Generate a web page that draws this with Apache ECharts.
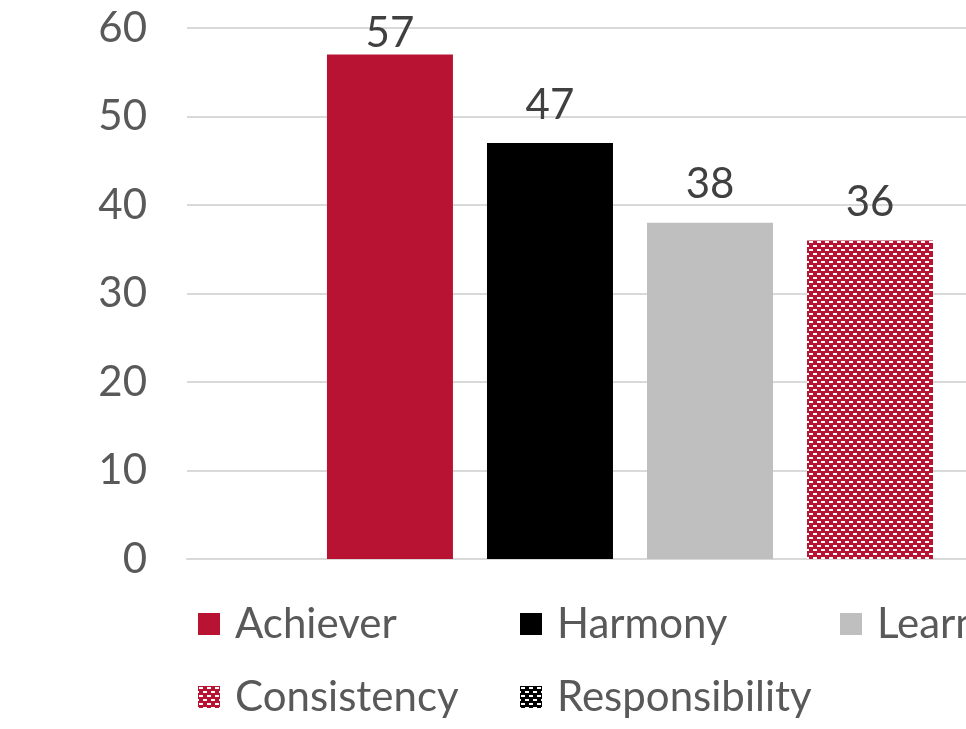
<!DOCTYPE html>
<html>
<head>
<meta charset="utf-8">
<script src="https://cdn.jsdelivr.net/npm/echarts@6/dist/echarts.min.js"></script>
<style>
  html, body { margin: 0; padding: 0; background: #fff; overflow: hidden; }
  /* the original is a crop of a wider chart: plot runs past the right edge */
  #chart { width: 1233px; height: 729px; }
</style>
</head>
<body>
<div id="chart"></div>
<script>
// data
const categories = ['Themes']
const seriesNames = ['Achiever', 'Harmony', 'Learner', 'Consistency', 'Responsibility']
const seriesValues = [57, 47, 38, 36, 34] // last bar sits outside the visible area
const yTicks = [0, 10, 20, 30, 40, 50, 60]

const FONT = 'Lato, "Open Sans", sans-serif'

// brick-like dashed fill, as in the original
function brickPattern(bg) {
  const c = document.createElement('canvas')
  c.width = 8
  c.height = 8
  const ctx = c.getContext('2d')
  ctx.fillStyle = bg
  ctx.fillRect(0, 0, 8, 8)
  ctx.fillStyle = '#ffffff'
  ctx.fillRect(1, 1, 4, 2)
  ctx.fillRect(5, 5, 3, 2)
  ctx.fillRect(0, 5, 1, 2)
  return { image: c, repeat: 'repeat' }
}

const fills = [
  '#b81333',
  '#000000',
  '#bfbfbf',
  brickPattern('#b81333'),
  brickPattern('#000000')
]

// legend slots (two rows, three columns)
const legendPos = [
  { left: 198, top: 603 },
  { left: 520, top: 603 },
  { left: 840, top: 603 },
  { left: 198, top: 676 },
  { left: 520, top: 676 }
]

const chart = echarts.init(document.getElementById('chart'))

chart.setOption({
  animation: false,
  grid: {
    left: 187,
    right: 0,
    top: 28,
    bottom: 170,
    containLabel: false
  },
  legend: seriesNames.map(function(name, i) {
    return {
      data: [name],
      left: legendPos[i].left,
      top: legendPos[i].top,
      itemWidth: 22,
      itemHeight: 22,
      itemGap: 0,
      icon: 'rect',
      padding: 0,
      textStyle: {
        fontFamily: FONT,
        fontSize: 42,
        color: '#595959',
        padding: [0, 0, 0, 10]
      }
    }
  }),
  xAxis: {
    type: 'category',
    data: categories,
    axisLine: { lineStyle: { color: '#d9d9d9', width: 2 } },
    axisTick: { show: false },
    axisLabel: { show: false }
  },
  yAxis: {
    type: 'value',
    min: yTicks[0],
    max: yTicks[yTicks.length - 1],
    interval: 10,
    axisLine: { show: false },
    axisTick: { show: false },
    splitLine: { lineStyle: { color: '#d9d9d9', width: 2 } },
    axisLabel: {
      fontFamily: FONT,
      fontSize: 42,
      color: '#595959',
      margin: 40
    }
  },
  series: seriesNames.map(function(name, i) {
    return {
      name: name,
      type: 'bar',
      data: [seriesValues[i]],
      barWidth: 126,
      barGap: '27%',
      itemStyle: { color: fills[i] },
      label: {
        show: true,
        position: 'top',
        // the tallest label is squeezed against the plot top, as in the source
        distance: i === 0 ? 0 : 17,
        fontFamily: FONT,
        fontSize: 42,
        color: '#404040'
      }
    }
  })
})
</script>
</body>
</html>
